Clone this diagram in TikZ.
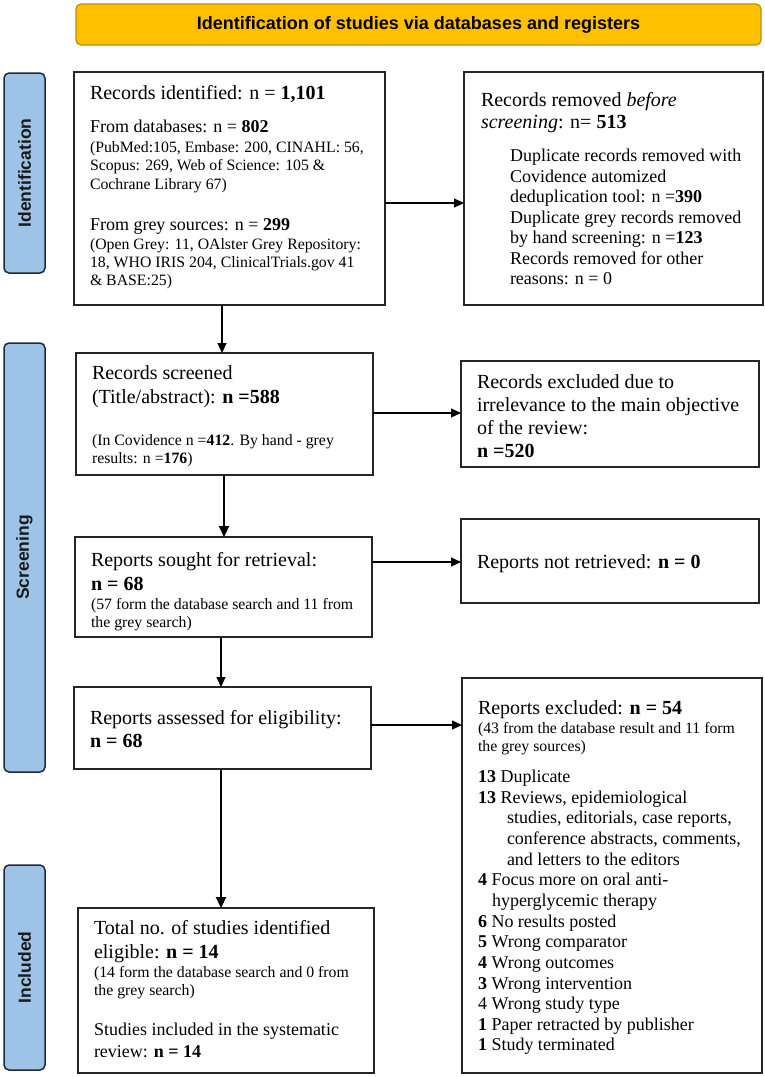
\documentclass[tikz,border=0pt]{standalone}
\usepackage{fontspec}
\setmainfont{Liberation Serif}
\newfontfamily\arialf{Liberation Sans}
\usetikzlibrary{arrows.meta}
\definecolor{bannerfill}{HTML}{FFC000}
\definecolor{bannerdraw}{HTML}{BF9000}
\definecolor{labfill}{HTML}{9DC3E6}
\definecolor{labdraw}{HTML}{1F2A38}
\definecolor{boxdraw}{HTML}{262626}
\newcommand\fbig{\fontsize{20}{23}\selectfont}
\newcommand\fmid{\fontsize{18}{20.7}\selectfont}
\newcommand\fsml{\fontsize{15.8}{17.5}\selectfont}
\newcommand\mkbox[5]{\node[box, anchor=north west, minimum width={(#4-#2)*1pt}, minimum height={(#5-#3)*1pt}] (#1) at (#2,#3) {};}
\newcommand\tl[4]{\node[tline] (#1) at (#2,#3) {#4};}
\begin{document}
\begin{tikzpicture}[x=1pt,y=-1pt,
  box/.style={draw=boxdraw, line width=1.6pt, inner sep=0pt, outer sep=0pt, fill=white},
  lab/.style={draw=labdraw, fill=labfill, line width=1.5pt, rounded corners=5pt, inner sep=0pt, outer sep=0pt, anchor=north west, minimum width=41pt, font=\arialf\bfseries\fontsize{17.5}{20}\selectfont, text=black!90},
  banner/.style={draw=bannerdraw, fill=bannerfill, line width=1.3pt, rounded corners=5pt, inner sep=0pt, outer sep=0pt, anchor=north west},
  tline/.style={anchor=base west, inner sep=0pt, outer sep=0pt},
  thinarr/.style={line width=1.1pt, -{Triangle[length=10pt,width=9pt]}},
  thickarr/.style={line width=2.2pt, -{Triangle[length=11pt,width=10pt]}}
]
\useasboundingbox (0,0) rectangle (765,1077);

% banner
\node[banner, minimum width=685pt, minimum height=41pt] (T) at (76,4)
  {\arialf\bfseries\fontsize{18}{21}\selectfont Identification of studies via databases and registers};

% side labels
\node[lab, minimum height=200pt] (LI) at (4,73) {\rotatebox{90}{Identification}};
\node[lab, minimum height=429pt] (LS) at (4,343) {\rotatebox{90}{Screening}};
\node[lab, minimum height=205pt] (LN) at (4,865) {\rotatebox{90}{Included}};

% boxes
\mkbox{A}{74}{72}{385}{305}
\mkbox{B}{464}{72}{763}{305}
\mkbox{C}{76}{353}{373}{475}
\mkbox{D}{461}{361}{759}{467}
\mkbox{E}{75}{537}{372}{637}
\mkbox{F}{461}{519}{759}{603}
\mkbox{G}{74}{687}{371}{769}
\mkbox{H}{462}{678}{762}{1073}
\mkbox{I}{78}{908}{374}{1073}

% connector helper coordinates
\coordinate (yAB) at (0,203);
\coordinate (yCD) at (0,413);
\coordinate (yEF) at (0,562);
\coordinate (yGH) at (0,725);
\coordinate (xAC) at (222,0);
\coordinate (xCE) at (224,0);
\coordinate (xEG) at (221,0);
\coordinate (xGI) at (221,0);

\draw[thinarr] (A.east |- yAB) -- (B.west |- yAB);
\draw[thinarr] (C.east |- yCD) -- (D.west |- yCD);
\draw[thinarr] (E.east |- yEF) -- (F.west |- yEF);
\draw[thinarr] (G.east |- yGH) -- (H.west |- yGH);
\draw[thinarr] (A.south -| xAC) -- (C.north -| xAC);
\draw[thickarr] (C.south -| xCE) -- (E.north -| xCE);
\draw[thinarr] (E.south -| xEG) -- (G.north -| xEG);
\draw[thickarr] (G.south -| xGI) -- (I.north -| xGI);

% Box A
\tl{A1}{90}{99}{\fbig Records identified: n = \textbf{1,101}}
\tl{A2}{90}{132}{\fmid From databases: n = \textbf{802}}
\tl{A3}{90}{152}{\fsml (PubMed:105, Embase: 200, CINAHL: 56,}
\tl{A4}{90}{170.5}{\fsml Scopus: 269, Web of Science: 105 \&}
\tl{A5}{90}{189}{\fsml Cochrane Library 67)}
\tl{A6}{90}{230}{\fmid From grey sources: n = \textbf{299}}
\tl{A7}{90}{249}{\fsml (Open Grey: 11, OAlster Grey Repository:}
\tl{A8}{90}{267}{\fsml 18, WHO IRIS 204, ClinicalTrials.gov 41}
\tl{A9}{90}{285}{\fsml \& BASE:25)}

% Box B
\tl{B1}{481}{106}{\fbig Records removed \textit{before}}
\tl{B2}{481}{128.5}{\fbig \textit{screening}: n= \textbf{513}}
\tl{B3}{510}{161.5}{\fmid Duplicate records removed with}
\tl{B4}{510}{182}{\fmid Covidence automized}
\tl{B5}{510}{202.5}{\fmid deduplication tool: n =\textbf{390}}
\tl{B6}{510}{223}{\fmid Duplicate grey records removed}
\tl{B7}{510}{243.5}{\fmid by hand screening: n =\textbf{123}}
\tl{B8}{510}{264}{\fmid Records removed for other}
\tl{B9}{510}{284.5}{\fmid reasons: n = 0}

% Box C
\tl{C1}{92}{379}{\fbig Records screened}
\tl{C2}{92}{403}{\fbig (Title/abstract): \textbf{n =588}}
\tl{C3}{92}{445}{\fsml (In Covidence n =\textbf{412}. By hand - grey}
\tl{C4}{92}{463}{\fsml results: n =\textbf{176})}

% Box D
\tl{D1}{477}{388}{\fbig Records excluded due to}
\tl{D2}{477}{411}{\fbig irrelevance to the main objective}
\tl{D3}{477}{434}{\fbig of the review:}
\tl{D4}{477}{457}{\fbig \textbf{n =520}}

% Box E
\tl{E1}{91}{566}{\fbig Reports sought for retrieval:}
\tl{E2}{91}{590}{\fbig \textbf{n = 68}}
\tl{E3}{91}{609}{\fsml (57 form the database search and 11 from}
\tl{E4}{91}{627}{\fsml the grey search)}

% Box F
\tl{F1}{477}{568}{\fbig Reports not retrieved: \textbf{n = 0}}

% Box G
\tl{G1}{90}{724}{\fbig Reports assessed for eligibility:}
\tl{G2}{90}{747}{\fbig \textbf{n = 68}}

% Box H
\tl{H1}{478}{714}{\fbig Reports excluded: \textbf{n = 54}}
\tl{H2}{478}{733}{\fsml (43 from the database result and 11 form}
\tl{H3}{478}{751}{\fsml the grey sources)}
\tl{H4}{478}{782.5}{\fmid \textbf{13} Duplicate}
\tl{H5}{478}{803.15}{\fmid \textbf{13} Reviews, epidemiological}
\tl{H6}{507}{823.8}{\fmid studies, editorials, case reports,}
\tl{H7}{507}{844.45}{\fmid conference abstracts, comments,}
\tl{H8}{507}{865.1}{\fmid and letters to the editors}
\tl{H9}{478}{885.75}{\fmid \textbf{4} Focus more on oral anti-}
\tl{H10}{492}{906.4}{\fmid hyperglycemic therapy}
\tl{H11}{478}{927.05}{\fmid \textbf{6} No results posted}
\tl{H12}{478}{947.7}{\fmid \textbf{5} Wrong comparator}
\tl{H13}{478}{968.35}{\fmid \textbf{4} Wrong outcomes}
\tl{H14}{478}{989}{\fmid \textbf{3} Wrong intervention}
\tl{H15}{478}{1009.65}{\fmid 4 Wrong study type}
\tl{H16}{478}{1030.3}{\fmid \textbf{1} Paper retracted by publisher}
\tl{H17}{478}{1050.95}{\fmid \textbf{1} Study terminated}

% Box I
\tl{I1}{94}{934}{\fbig Total no. of studies identified}
\tl{I2}{94}{958}{\fbig eligible: \textbf{n = 14}}
\tl{I3}{94}{977}{\fsml (14 form the database search and 0 from}
\tl{I4}{94}{995}{\fsml the grey search)}
\tl{I5}{94}{1035.5}{\fmid Studies included in the systematic}
\tl{I6}{94}{1057.5}{\fmid review: \textbf{n = 14}}
\end{tikzpicture}
\end{document}
